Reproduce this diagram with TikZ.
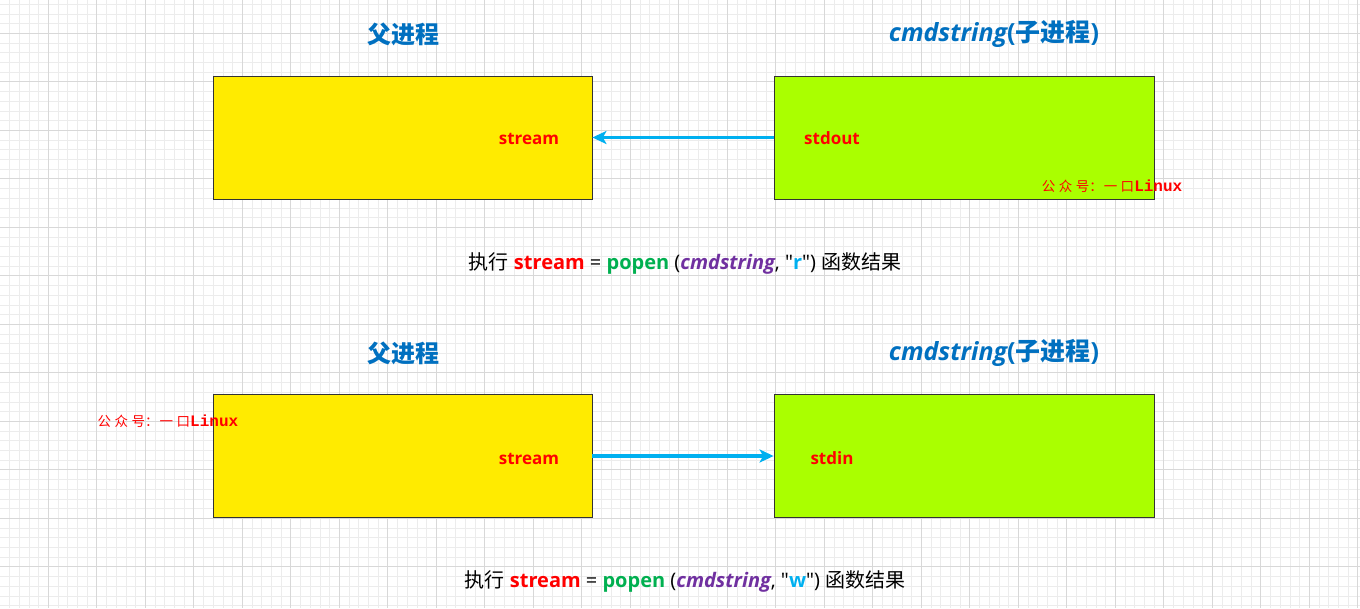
\documentclass[tikz,border=0pt]{standalone}
\usepackage{fontspec}
\setmainfont{Open Sans}
\newfontfamily\qfont{Open Sans}
\newfontfamily\cjk{Noto Sans CJK SC}
\newfontfamily\cjkb{Noto Sans CJK SC Bold}
\newfontfamily\wmono{Liberation Mono}
\usetikzlibrary{arrows.meta}
\definecolor{ttlblue}{RGB}{0,112,192}
\definecolor{boxyellow}{RGB}{255,235,0}
\definecolor{boxgreen}{RGB}{170,255,0}
\definecolor{arrblue}{RGB}{0,176,240}
\definecolor{txtred}{RGB}{255,0,0}
\definecolor{popgreen}{RGB}{0,176,80}
\definecolor{cmdpurple}{RGB}{112,48,160}
\definecolor{minorg}{RGB}{236,236,236}
\definecolor{majorg}{RGB}{216,216,216}
\tikzset{
  minorgrid/.style={draw=minorg,line width=0.7pt},
  majorgrid/.style={draw=majorg,line width=0.9pt},
  pbox/.style={draw=black!80,line width=0.8pt,fill=boxyellow,minimum width=379pt,minimum height=123pt,inner sep=0pt},
  cbox/.style={draw=black!80,line width=0.8pt,fill=boxgreen,minimum width=380pt,minimum height=123pt,inner sep=0pt},
  ttl/.style={text=ttlblue,font=\fontsize{24}{28}\selectfont\bfseries,inner sep=0pt},
  ttlb/.style={text=ttlblue,font=\fontsize{25}{28}\selectfont\bfseries,inner sep=0pt},
  intxt/.style={text=txtred,font=\fontsize{17}{20}\selectfont\bfseries,inner sep=0pt},
  captxt/.style={text=black,font=\fontsize{20}{24}\selectfont,inner sep=0pt},
  wm/.style={text=txtred,font=\fontsize{13.5}{14}\selectfont,inner sep=0pt},
  arr/.style={draw=arrblue,line width=3.2pt,-{Stealth[length=14pt,width=13pt,inset=3.5pt]}}
}
\newcommand{\wmtext}{{\cjk 公\hspace{3.5pt}众\hspace{3.5pt}号：\hspace{1pt}一\hspace{3.5pt}口}{\wmono\bfseries\fontsize{16}{16}\selectfont Linux}}
\newcommand{\dq}{{\qfont"}}
\begin{document}
\begin{tikzpicture}[x=1pt,y=-1pt]
\useasboundingbox (0,0) rectangle (1360,608);
\fill[white] (0,0) rectangle (1360,608);
\begin{scope}
\clip (0,0) rectangle (1360,608);
\foreach \i in {-5,...,140} \draw[minorgrid] ({48.3+9.7*\i},0) -- ({48.3+9.7*\i},608);
\foreach \i in {-5,...,62} \draw[minorgrid] (0,{33.3+9.7*\i}) -- (1360,{33.3+9.7*\i});
\foreach \i in {-1,...,28} \draw[majorgrid] ({48.3+48.5*\i},0) -- ({48.3+48.5*\i},608);
\foreach \i in {-1,...,13} \draw[majorgrid] (0,{33.3+48.5*\i}) -- (1360,{33.3+48.5*\i});
\end{scope}

% top panel
\node[ttl] (t1) at (403,34) {\cjkb 父进程};
\node[ttlb] (t2) at (994,34) {\itshape cmdstring\upshape(\cjkb 子进程\normalfont\bfseries)};
\node[pbox] (p1) at (402.5,137.5) {};
\node[cbox] (c1) at (964.5,137.5) {};
\node[intxt] (s1) at (529,138.5) {stream};
\node[intxt] (o1) at (832,138.5) {stdout};
\draw[arr] (c1.west) -- (p1.east);
\node[wm] (w1) at (1112,186) {\wmtext};
\node[captxt] (cap1) at (685,263) {{\cjk 执行} \textbf{\color{txtred}stream} = \textbf{\color{popgreen}popen} ({\bfseries\itshape\color{cmdpurple}cmdstring}, \dq\textbf{\color{arrblue}r}\dq) {\cjk 函数结果}};

% bottom panel
\node[ttl] (t3) at (403,353) {\cjkb 父进程};
\node[ttlb] (t4) at (994,353) {\itshape cmdstring\upshape(\cjkb 子进程\normalfont\bfseries)};
\node[pbox] (p2) at (402.5,456) {};
\node[cbox] (c2) at (964,456) {};
\node[intxt] (s2) at (529,458.5) {stream};
\node[intxt] (i2) at (832,458.5) {stdin};
\draw[arr] (p2.east) -- (c2.west);
\node[wm] (w2) at (168,421) {\wmtext};
\node[captxt] (cap2) at (685,581) {{\cjk 执行} \textbf{\color{txtred}stream} = \textbf{\color{popgreen}popen} ({\bfseries\itshape\color{cmdpurple}cmdstring}, \dq\textbf{\color{arrblue}w}\dq) {\cjk 函数结果}};
\end{tikzpicture}
\end{document}
